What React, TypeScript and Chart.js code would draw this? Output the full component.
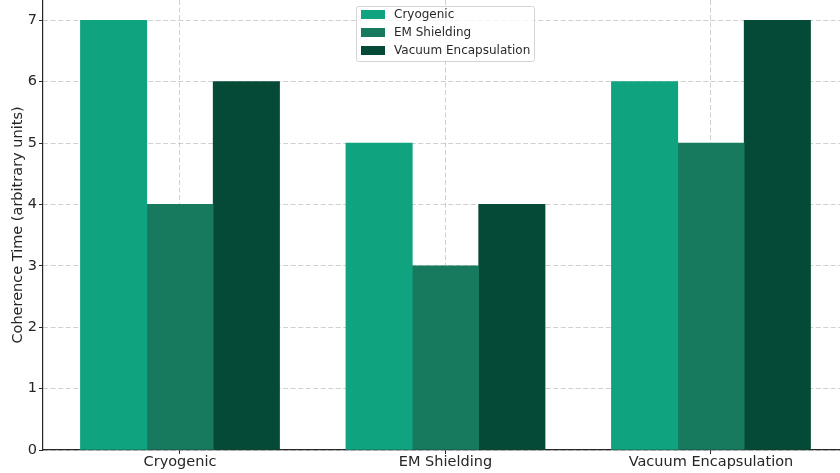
import React, { useEffect, useRef } from "react";
import { Chart, registerables } from "chart.js";

Chart.register(...registerables);

const categories = ["Cryogenic", "EM Shielding", "Vacuum Encapsulation"];
const seriesNames = ["Cryogenic", "EM Shielding", "Vacuum Encapsulation"];
const cryogenicValues = [7, 5, 6];
const emShieldingValues = [4, 3, 5];
const vacuumValues = [6, 4, 7];
const seriesColors = ["#10a37f", "#177a5f", "#044a36"];
const groupOffsets = [-0.25, 0, 0.25];
const yTickValues = [0, 1, 2, 3, 4, 5, 6, 7];
const yTitle = "Coherence Time (arbitrary units)";

const FONT = "'DejaVu Sans', sans-serif";

const legendPlugin = {
  id: "overlayLegend",
  afterDraw(chart: any) {
    const ctx = chart.ctx;
    const x = 356, y = 6, w = 178, h = 55;
    ctx.save();
    ctx.fillStyle = "rgba(255,255,255,0.8)";
    ctx.strokeStyle = "#d4d4d4";
    ctx.lineWidth = 1;
    ctx.beginPath();
    if (ctx.roundRect) ctx.roundRect(x + 0.5, y + 0.5, w, h, 2);
    else ctx.rect(x + 0.5, y + 0.5, w, h);
    ctx.fill();
    ctx.stroke();
    ctx.font = `12px ${FONT}`;
    ctx.textBaseline = "middle";
    chart.data.datasets.forEach((ds: any, i: number) => {
      const cy = 14.5 + i * 18;
      ctx.fillStyle = ds.backgroundColor;
      ctx.fillRect(361, cy - 4.5, 24, 9);
      ctx.fillStyle = "#2a2a2a";
      ctx.fillText(ds.label, 394, cy + 0.5);
    });
    ctx.restore();
  },
};

export default function App() {
  const ref = useRef<HTMLCanvasElement | null>(null);
  useEffect(() => {
    document.body.style.margin = "0";
    const seriesValues = [cryogenicValues, emShieldingValues, vacuumValues];
    const chart = new Chart(ref.current as HTMLCanvasElement, {
      type: "bar",
      data: {
        datasets: seriesNames.map((name, s) => ({
          label: name,
          data: categories.map((_, i) => ({ x: i + groupOffsets[s], y: seriesValues[s][i] })),
          backgroundColor: seriesColors[s],
          borderWidth: 0,
          grouped: false,
          barPercentage: 1,
          categoryPercentage: 1,
        })),
      },
      options: {
        animation: false,
        responsive: false,
        maintainAspectRatio: false,
        layout: { padding: 0 },
        plugins: { legend: { display: false }, tooltip: { enabled: false } },
        scales: {
          x: {
            type: "linear",
            min: -0.516,
            max: 2.486,
            offset: false,
            z: 1,
            afterBuildTicks: (axis: any) => {
              axis.ticks = categories.map((_, i) => ({ value: i }));
            },
            afterFit: (axis: any) => {
              axis.height = 23;
              axis.paddingLeft = 0;
              axis.paddingRight = 0;
            },
            ticks: {
              callback: (v: any) => categories[Math.round(Number(v))],
              color: "#262626",
              font: { family: FONT, size: 14.5 },
              padding: 0,
              maxRotation: 0,
              autoSkip: false,
            },
            grid: {
              offset: false,
              color: "rgba(150,150,150,0.45)",
              lineWidth: 1,
              tickLength: 4,
              tickColor: "#262626",
              tickBorderDash: [],
            },
            border: { display: true, color: "#262626", width: 1.2, dash: [5, 2.5] },
          },
          y: {
            type: "linear",
            min: 0,
            max: 7.33,
            z: 1,
            afterBuildTicks: (axis: any) => {
              axis.ticks = yTickValues.map((v) => ({ value: v }));
            },
            afterFit: (axis: any) => {
              axis.width = 43;
              axis.paddingTop = 0;
              axis.paddingBottom = 0;
            },
            ticks: {
              color: "#262626",
              font: { family: FONT, size: 14.5 },
              padding: 2,
            },
            title: {
              display: true,
              text: yTitle,
              color: "#262626",
              font: { family: FONT, size: 14.5 },
              padding: { top: 10, bottom: 0 },
            },
            grid: {
              color: "rgba(150,150,150,0.45)",
              lineWidth: 1,
              tickLength: 4,
              tickColor: "#262626",
              tickBorderDash: [],
            },
            border: { display: true, color: "#262626", width: 1.2, dash: [5, 2.5] },
          },
        },
      },
      plugins: [legendPlugin],
    } as any);
    return () => chart.destroy();
  }, []);
  return (
    <div style={{ width: 840, height: 473 }}>
      <canvas ref={ref} width={840} height={473} style={{ display: "block" }} />
    </div>
  );
}
